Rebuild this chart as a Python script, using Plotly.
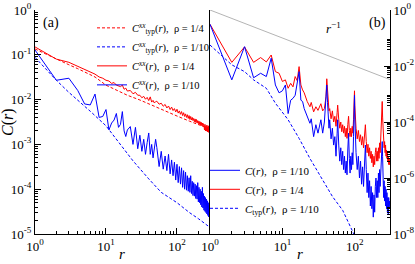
import plotly.graph_objects as go

# ---------------- Panel (a) data ----------------
a_typ_r = [1, 2, 3, 4, 5, 7, 10, 15, 20, 30, 50, 70, 100, 150, 200, 292]
a_typ_q14 = [0.135, 0.079, 0.060, 0.049, 0.042, 0.032, 0.021, 0.0155, 0.0125, 0.0098,
             0.0068, 0.0054, 0.0043, 0.0033, 0.0028, 0.0022]

a_typ110_r = [1, 2, 3, 4, 6, 10, 15, 24, 40, 60, 100, 150, 200, 292]
a_typ_q110 = [0.088, 0.027, 0.0145, 0.0098, 0.0055, 0.0026, 0.0011, 0.00043, 0.00017,
              0.000085, 0.00005, 0.00003, 0.000022, 0.000014]

a_r = list(range(1, 21)) + list(range(22, 51, 2)) + list(range(52, 293, 4))
a_xx_q14 = [0.150, 0.080, 0.068, 0.055, 0.046, 0.040, 0.037, 0.032, 0.030, 0.027,
            0.026, 0.023, 0.024, 0.021, 0.020, 0.0195, 0.021, 0.017, 0.018, 0.0155,
            0.016, 0.0135, 0.0145, 0.0125, 0.0125, 0.011, 0.0118, 0.0102, 0.0112, 0.0095,
            0.0115, 0.0088, 0.0096, 0.0084, 0.0090,
            0.0092, 0.0079, 0.0083, 0.0071, 0.0078, 0.0065, 0.0072, 0.0060, 0.0068, 0.0057,
            0.0063, 0.0053, 0.0061, 0.0050, 0.0056, 0.0047, 0.0054, 0.0044, 0.0051, 0.0042,
            0.0048, 0.0040, 0.0046, 0.0038, 0.0044, 0.0036, 0.0042, 0.0035, 0.0040, 0.0034,
            0.0038, 0.0032, 0.0037, 0.0031, 0.0036, 0.0030, 0.0034, 0.0029, 0.0033, 0.0028,
            0.0032, 0.0027, 0.0031, 0.0026, 0.0030, 0.0025, 0.0029, 0.0027, 0.0021, 0.0028,
            0.0020, 0.0026, 0.0020, 0.0027, 0.0019, 0.0025, 0.0019, 0.0026, 0.0018, 0.0024,
            0.0018]
a_xx_q110 = [0.128, 0.027, 0.030, 0.016, 0.0080, 0.0076, 0.0133, 0.0040, 0.0042, 0.0060,
             0.0021, 0.0030, 0.0035, 0.0049, 0.0024, 0.0028, 0.0054, 0.0020, 0.0015, 0.0021,
             0.0025, 0.0010, 0.0024, 0.0008, 0.0016, 0.0007, 0.0013, 0.0006, 0.0011, 0.0018,
             0.0006, 0.0010, 0.0005, 0.0009, 0.0013,
             0.00085, 0.00032, 0.00070, 0.00028, 0.00055, 0.00026, 0.00060, 0.00022, 0.00045, 0.00020,
             0.00040, 0.00016, 0.00036, 0.00014, 0.00032, 0.00013, 0.00030, 0.00011, 0.00026, 0.00010,
             0.00024, 0.000095, 0.00020, 0.00009, 0.00018, 0.000085, 0.00020, 0.00008, 0.00015, 0.000072,
             0.00014, 0.00007, 0.00013, 0.000062, 0.00012, 0.00006, 0.00014, 0.000052, 0.00011, 0.00005,
             0.0001, 0.000045, 0.00009, 0.00004, 0.00011, 0.000038, 0.00008, 0.000034, 0.00007, 0.000032,
             0.000065, 0.00003, 0.00006, 0.000028, 0.000055, 0.000026, 0.00005, 0.000024, 0.000045, 0.000021,
             0.00004]

# ---------------- Panel (b) data ----------------
b_r = [1, 2, 3, 4, 5, 6, 7, 8, 9, 10, 11, 12, 13, 14, 15, 16, 17, 18, 19, 20,
       22, 24, 25, 27, 29, 31, 34, 36, 38, 40, 41, 42, 44,
       45, 47, 49, 51, 53, 55, 57, 58, 60, 62, 64, 66, 68, 70, 72, 74, 76, 78,
       80, 82, 84, 86, 88, 90, 92, 94, 96, 98, 99, 100, 102,
       104, 108, 112, 116, 120, 124, 128, 132, 136, 140, 144, 148, 152, 156, 160, 164, 168,
       172, 176, 180, 184, 188, 192, 196, 200, 204, 208, 212, 216, 220, 224, 228, 232, 236,
       239, 242,
       246, 250, 254, 258, 262, 266, 270, 274, 278, 282, 286, 290, 294, 298, 302, 306]
b_c_q14 = [0.31, 0.0135, 0.048, 0.0135, 0.020, 0.014, 0.0247, 0.0063, 0.0055, 0.0028,
           0.0032, 0.0016, 0.0024, 0.0018, 0.0042, 0.0030, 0.0095, 0.0021, 0.0014, 0.0011,
           0.00054, 0.00035, 0.0005, 0.00023, 0.00035, 0.00026, 0.00045, 0.00025, 0.0003, 0.0008,
           0.0035, 0.0009, 0.00025,
           0.0003, 0.00013, 0.00025, 0.0001, 0.00016, 0.00007, 0.00022, 0.0004, 0.00012, 0.00006,
           0.0001, 0.000045, 0.00008, 0.00004, 0.00007, 0.00003, 0.00006, 0.000026,
           0.00008, 0.00016, 0.00005, 0.00003, 0.00006, 0.00003, 0.00007, 0.00004, 0.00012, 0.0004,
           0.0013, 0.0004, 0.0001,
           6e-5, 2.5e-5, 5e-5, 2e-5, 3.5e-5, 1.5e-5, 3e-5, 1.2e-5, 4e-5, 8e-5, 2e-5, 8e-6, 1.6e-5,
           6e-6, 1.2e-5, 5e-6, 9e-6,
           3.5e-6, 7e-6, 2.5e-6, 6e-6, 3e-6, 8e-6, 1.2e-5, 4e-6, 9e-6, 4e-6, 1.2e-5, 5e-6, 1.8e-5,
           8e-6, 3e-5, 6e-5, 1.5e-4,
           5.4e-4, 1.5e-4,
           4e-5, 3e-5, 1.2e-5, 2e-5, 8e-6, 1.5e-5, 6e-6, 1e-5, 5e-6, 8e-6, 4e-6, 6e-6, 3e-6, 5e-6,
           3e-6, 4e-6]
b_c_q110 = [0.31, 0.0032, 0.049, 0.0038, 0.0055, 0.0042, 0.019, 0.0021, 0.0011, 0.0013,
            0.0021, 0.0002, 0.0006, 0.0007, 0.0009, 0.0025, 0.0063, 0.0006, 0.00054, 0.0003,
            0.00015, 0.00009, 0.00013, 0.00003, 0.00008, 0.00004, 0.00012, 0.00004, 0.0001, 0.0005,
            0.0021, 0.0005, 0.00006,
            0.00012, 0.000025, 0.00006, 0.000015, 0.00003, 0.000006, 0.00004, 0.00012, 0.000015, 0.000004,
            0.000012, 0.000003, 0.000009, 0.000002, 0.000006, 0.0000015, 0.000004, 0.0000013,
            0.00001, 0.00004, 0.000005, 0.0000015, 0.000006, 0.000002, 0.000008, 0.000003, 0.00003, 0.0002,
            0.0009, 0.00015, 0.00002,
            8e-6, 2e-6, 6e-6, 1e-6, 4e-6, 6e-7, 2.5e-6, 5e-7, 4e-6, 1.5e-5, 2e-6, 3e-7, 1.5e-6,
            2e-7, 8e-7, 1e-7, 5e-7,
            8e-8, 3e-7, 4e-8, 2.5e-7, 6e-8, 5e-7, 1e-6, 2e-7, 8e-7, 2e-7, 1.5e-6, 3e-7, 2e-6,
            5e-7, 1.5e-6, 4e-6, 8e-6,
            2e-5, 6e-6,
            1e-6, 2e-7, 8e-7, 1.5e-7, 5e-7, 1e-7, 4e-7, 8e-8, 3e-7, 6e-8, 2e-7, 5e-8, 2e-7, 8e-8,
            1.5e-7, 1e-7]

b_typ_r = [1, 2, 3, 4, 6, 8, 12, 17, 24, 36, 49, 68, 94, 110]
b_typ_q110 = [0.056, 0.011, 0.0063, 0.0032, 0.0016, 0.00047, 0.00012, 0.000026,
              0.000005, 8e-7, 2.2e-7, 7e-8, 1.2e-8, 5e-9]

ref_r = [1, 306]
ref_c = [1.0, 0.00327]

a_xticks = [1, 10, 100]
a_xtext = ["10<sup>0</sup>", "10<sup>1</sup>", "10<sup>2</sup>"]
a_yticks = [1, 1e-1, 1e-2, 1e-3, 1e-4, 1e-5]
a_ytext = ["10<sup>0</sup>", "10<sup>-1</sup>", "10<sup>-2</sup>", "10<sup>-3</sup>",
           "10<sup>-4</sup>", "10<sup>-5</sup>"]
b_yticks = [1, 1e-2, 1e-4, 1e-6, 1e-8]
b_ytext = ["10<sup>0</sup>", "10<sup>-2</sup>", "10<sup>-4</sup>", "10<sup>-6</sup>",
           "10<sup>-8</sup>"]

assert len(a_r) == len(a_xx_q14) == len(a_xx_q110)
assert len(b_r) == len(b_c_q14) == len(b_c_q110)

RED = "#ff0000"
BLUE = "#0000ff"
FONT = "Liberation Serif"
NB = "\u00a0"

fig = go.Figure()

# panel (a)
fig.add_trace(go.Scatter(x=a_typ_r, y=a_typ_q14, mode="lines",
                         line=dict(color=RED, width=1, dash="3px,2px"),
                         name="<i>C</i><sup><i>xx</i></sup><sub>typ</sub>(<i>r</i>)," + NB + NB + "ρ = 1/4",
                         xaxis="x", yaxis="y", legend="legend", legendrank=1))
fig.add_trace(go.Scatter(x=a_typ110_r, y=a_typ_q110, mode="lines",
                         line=dict(color=BLUE, width=1, dash="3px,2px"),
                         name="<i>C</i><sup><i>xx</i></sup><sub>typ</sub>(<i>r</i>)," + NB + NB + "ρ = 1/10",
                         xaxis="x", yaxis="y", legend="legend", legendrank=2))
fig.add_trace(go.Scatter(x=a_r, y=a_xx_q14, mode="lines",
                         line=dict(color=RED, width=1),
                         name="<i>C</i><sup><i>xx</i></sup>(<i>r</i>)," + NB + NB + "ρ = 1/4",
                         xaxis="x", yaxis="y", legend="legend", legendrank=3))
fig.add_trace(go.Scatter(x=a_r, y=a_xx_q110, mode="lines",
                         line=dict(color=BLUE, width=1),
                         name="<i>C</i><sup><i>xx</i></sup>(<i>r</i>)," + NB + NB + "ρ = 1/10",
                         xaxis="x", yaxis="y", legend="legend", legendrank=4))

# panel (b)
fig.add_trace(go.Scatter(x=ref_r, y=ref_c, mode="lines",
                         line=dict(color="#b4b4b4", width=1), showlegend=False,
                         xaxis="x2", yaxis="y2"))
fig.add_trace(go.Scatter(x=b_typ_r, y=b_typ_q110, mode="lines",
                         line=dict(color=BLUE, width=1, dash="3px,2px"),
                         name="<i>C</i><sub>typ</sub>(<i>r</i>)," + NB + NB + "ρ = 1/10",
                         xaxis="x2", yaxis="y2", legend="legend2", legendrank=3))
fig.add_trace(go.Scatter(x=b_r, y=b_c_q14, mode="lines",
                         line=dict(color=RED, width=1),
                         name="<i>C</i>(<i>r</i>)," + NB + NB + "ρ = 1/4",
                         xaxis="x2", yaxis="y2", legend="legend2", legendrank=2))
fig.add_trace(go.Scatter(x=b_r, y=b_c_q110, mode="lines",
                         line=dict(color=BLUE, width=1),
                         name="<i>C</i>(<i>r</i>)," + NB + NB + "ρ = 1/10",
                         xaxis="x2", yaxis="y2", legend="legend2", legendrank=1))


def minor_vals(kmin, kmax, mults):
    return [m * 10.0 ** k for k in range(kmin, kmax + 1) for m in mults]


axis_common = dict(type="log", showgrid=False, zeroline=False, showline=True,
                   linecolor="black", linewidth=1, ticks="inside", ticklen=6,
                   tickcolor="black", tickwidth=1, tickmode="array", automargin=False,
                   tickfont=dict(family=FONT, size=13, color="black"))

split = 175 / 355
fig.update_layout(
    width=415, height=264,
    margin=dict(l=35, r=25, t=10, b=30, autoexpand=False),
    paper_bgcolor="white", plot_bgcolor="white",
    font=dict(family=FONT, color="black"),
    xaxis=dict(axis_common, domain=[0, split], range=[0, 2.465], anchor="y",
               tickvals=a_xticks, ticktext=a_xtext,
               minor=dict(tickmode="array", tickvals=minor_vals(0, 2, range(2, 10)),
                          ticks="inside", ticklen=3, tickcolor="black", showgrid=False)),
    yaxis=dict(axis_common, domain=[0, 1], range=[-5, 0], anchor="x",
               tickvals=a_yticks, ticktext=a_ytext,
               minor=dict(tickmode="array", tickvals=minor_vals(-5, -1, range(2, 10)),
                          ticks="inside", ticklen=3, tickcolor="black", showgrid=False)),
    xaxis2=dict(axis_common, domain=[split, 1], range=[0, 2.486], anchor="y2",
                tickvals=a_xticks, ticktext=a_xtext,
                minor=dict(tickmode="array", tickvals=minor_vals(0, 2, range(2, 10)),
                           ticks="inside", ticklen=3, tickcolor="black", showgrid=False)),
    yaxis2=dict(axis_common, domain=[0, 1], range=[-8, 0], anchor="x2", side="right",
                mirror=True, tickvals=b_yticks, ticktext=b_ytext,
                minor=dict(tickmode="array",
                           tickvals=minor_vals(-8, -2, [4, 5, 6, 7, 8, 9]),
                           ticks="inside", ticklen=3, tickcolor="black", showgrid=False)),
    legend=dict(x=(92 - 35) / 355, y=0.985, xanchor="left", yanchor="top",
                bgcolor="rgba(0,0,0,0)", font=dict(family=FONT, size=10.5, color="black"),
                tracegroupgap=0),
    legend2=dict(x=(205 - 35) / 355, y=0.05, xanchor="left", yanchor="bottom",
                 bgcolor="rgba(0,0,0,0)", font=dict(family=FONT, size=11, color="black"),
                 tracegroupgap=0),
    showlegend=True,
)

ann = dict(xref="paper", yref="paper", showarrow=False, xanchor="center", yanchor="middle")
fig.add_annotation(ann, x=(51 - 35) / 355, y=(234 - 23) / 224,
                   text="(a)", font=dict(family=FONT, size=14))
fig.add_annotation(ann, x=(377 - 35) / 355, y=(234 - 23) / 224,
                   text="(b)", font=dict(family=FONT, size=14))
fig.add_annotation(ann, x=(333 - 35) / 355, y=(234 - 28) / 224,
                   text="<i>r</i><sup>−1</sup>", font=dict(family=FONT, size=13))
fig.add_annotation(ann, x=(8 - 35) / 355, y=0.5, textangle=-90,
                   text="<i>C</i>(<i>r</i>)", font=dict(family=FONT, size=16))
fig.add_annotation(ann, x=(122 - 35) / 355, y=(234 - 254) / 224,
                   text="<i>r</i>", font=dict(family=FONT, size=15))
fig.add_annotation(ann, x=(300 - 35) / 355, y=(234 - 254) / 224,
                   text="<i>r</i>", font=dict(family=FONT, size=15))

fig.write_html("out.html", config={"displayModeBar": False},
               post_script="document.body.style.margin='0';")
